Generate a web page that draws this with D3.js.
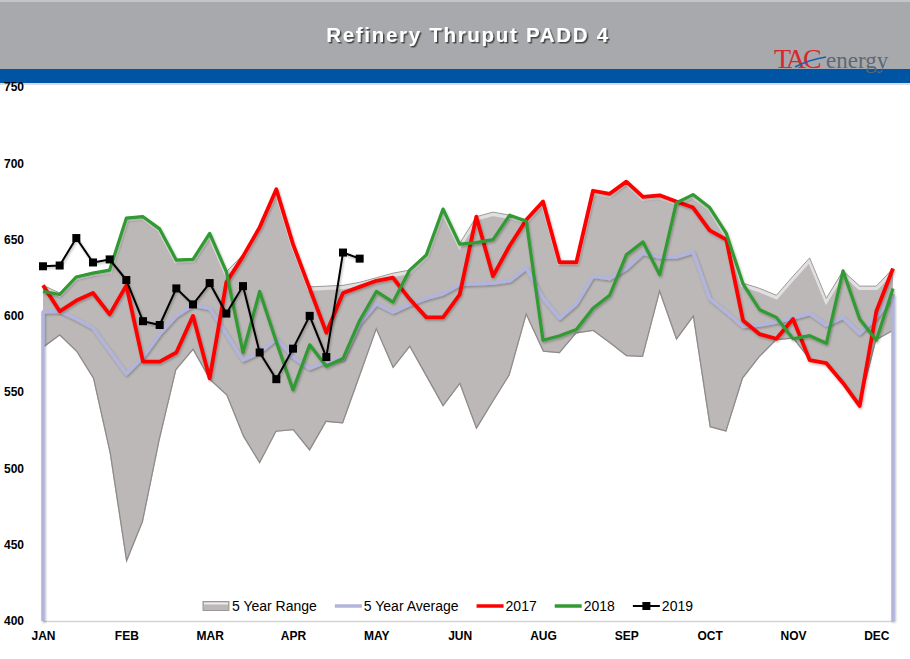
<!DOCTYPE html>
<html>
<head>
<meta charset="utf-8">
<script src="https://cdn.jsdelivr.net/npm/d3@7"></script>
<style>
  body { margin: 0; background: #fff; }
  svg { display: block; }
</style>
</head>
<body>
<svg id="chart" width="910" height="659"></svg>
<script>
'use strict';
/* global d3 */

// weekly values, 52 weeks, thousand b/d
var monthLabels = ['JAN', 'FEB', 'MAR', 'APR', 'MAY', 'JUN', 'AUG', 'SEP', 'OCT', 'NOV', 'DEC'];
var yTicks = [400, 450, 500, 550, 600, 650, 700, 750];

var rangeMin = [579, 587, 576.5, 559, 510, 438, 465, 518.5, 564.5, 577.5, 558, 548, 521, 503, 524, 525,
  511.5, 530.5, 529.5, 560, 590.5, 565.5, 579.5, 560, 540.5, 555, 525.5, 543.5, 561, 600, 576.5, 575.5,
  588.5, 590, 582, 573.5, 573, 615, 584, 599, 527, 524, 559, 573, 584, 585, 571, 568.5, 555.5, 541, 584, 590];
var rangeMax = [620, 615, 626, 628.5, 630, 664.5, 665.5, 657.5, 637, 637.5, 654.5, 629, 640, 659.5, 683.5, 647.5,
  619, 619.5, 620, 622, 625, 628, 630, 640, 670, 647.5, 665, 668, 666, 663, 675.5, 636,
  636, 682, 680, 688.5, 678, 679, 675, 679.5, 671.5, 654, 621.5, 618, 613.5, 626, 638, 611.5, 629.5, 619.5, 619.5, 631];
var avg5 = [602.5, 603, 598, 592, 577, 562, 573, 588, 600, 607, 605, 588, 571, 576, 585, 573,
  565.5, 570, 572, 595, 608, 602.5, 607.5, 611.5, 614.5, 620.5, 621, 621.5, 623, 631.5, 611.5, 598.5,
  608, 626, 624.5, 631, 641, 638.5, 638.5, 642, 611.5, 602.5, 593, 594, 596, 598.5, 601.5, 594, 599, 588.5, 599, 613.5];
var y2017 = [620, 603, 610, 615, 601, 620, 570, 570, 576, 600, 559, 622, 639, 658, 683, 647,
  618, 589, 615, 619, 623, 625, 611, 599, 599, 614, 665, 626, 646, 663, 675, 635,
  635, 682, 680, 688, 678, 679, 675, 671, 656, 650, 597, 588, 585, 598, 571, 569, 556, 541, 603, 631];
var y2018 = [616, 614, 625.5, 628, 630, 664, 665, 657, 636.5, 637, 654, 629, 576, 616, 583, 551.5,
  581, 567, 572, 597, 616, 609, 630, 640, 670, 647, 648, 650, 666, 662, 584, 587,
  591, 605, 613.5, 640, 648.5, 627, 674, 679.5, 671, 654, 621, 604, 599, 585, 587, 582, 629.5, 598, 584, 618];
var y2019 = [632.5, 633, 651, 635, 637, 623.5, 596.5, 594, 618, 607.5, 621.5, 601.5, 619.5, 576, 558.5,
  578.5, 600, 573, 641.5, 637.5];

var svg = d3.select('#chart');
var W = 910;

var x = d3.scaleLinear().domain([0, 51]).range([43, 893]);
var y = d3.scaleLinear().domain([400, 750]).range([621, 87]);

var defs = svg.append('defs');
var shadow = defs.append('filter').attr('id', 'titleShadow')
  .attr('x', '-10%').attr('y', '-30%').attr('width', '120%').attr('height', '160%');
shadow.append('feDropShadow').attr('dx', 1.5).attr('dy', 1.5).attr('stdDeviation', 0.7)
  .attr('flood-color', '#333').attr('flood-opacity', 0.85);
var lineShadow = defs.append('filter').attr('id', 'lineShadow')
  .attr('x', '-5%').attr('y', '-10%').attr('width', '110%').attr('height', '120%');
lineShadow.append('feDropShadow').attr('dx', 1).attr('dy', 1.5).attr('stdDeviation', 1)
  .attr('flood-color', '#000').attr('flood-opacity', 0.28);

// header
svg.append('rect').attr('x', 0).attr('y', 0).attr('width', W).attr('height', 69).attr('fill', '#a8a9ac');
svg.append('line').attr('x1', 0).attr('x2', W).attr('y1', 1).attr('y2', 1)
  .attr('stroke', '#c4c5c7').attr('stroke-width', 2);
svg.append('rect').attr('x', 0).attr('y', 69).attr('width', W).attr('height', 14).attr('fill', '#0054a4');
svg.append('line').attr('x1', 0).attr('x2', W).attr('y1', 84).attr('y2', 84)
  .attr('stroke', '#cfd0d2').attr('stroke-width', 1.5);

svg.append('text')
  .attr('x', 468).attr('y', 42)
  .attr('text-anchor', 'middle')
  .attr('fill', '#fff')
  .attr('filter', 'url(#titleShadow)')
  .style('font', 'bold 20.5px "Liberation Sans", Arial, sans-serif')
  .style('letter-spacing', '1.7px')
  .text('Refinery Thruput PADD 4');

// logo
var logo = svg.append('g');
logo.append('text').attr('x', 774).attr('y', 68)
  .attr('fill', '#d6282e')
  .style('font', '28px "Liberation Serif", "DejaVu Serif", serif')
  .style('letter-spacing', '-3px')
  .text('TAC');
logo.append('path').attr('d', 'M795,67 Q808,60 826,57')
  .attr('fill', 'none').attr('stroke', '#1d5fae').attr('stroke-width', 1.6);
logo.append('text').attr('x', 826).attr('y', 68)
  .attr('fill', '#5d6873')
  .style('font', '23px "Liberation Serif", "DejaVu Serif", serif')
  .text('energy');

// axes
var yAxis = svg.append('g')
  .call(d3.axisLeft(y).tickValues(yTicks).tickSize(0).tickFormat(d3.format('d')));
yAxis.select('.domain').remove();
yAxis.selectAll('text')
  .attr('x', 4).attr('text-anchor', 'start')
  .attr('fill', '#000')
  .style('font', 'bold 12px "Liberation Sans Narrow", "Arial Narrow", "Liberation Sans", sans-serif');

var xAxis = svg.append('g').attr('transform', 'translate(0,' + y(400) + ')')
  .call(d3.axisBottom(x)
    .tickValues(monthLabels.map(function (d, i) { return i * 5; }))
    .tickFormat(function (d) { return monthLabels[d / 5]; })
    .tickSize(0).tickSizeOuter(0).tickPadding(10));
xAxis.select('.domain').attr('stroke', '#d4d4d4').attr('stroke-width', 1.5);
xAxis.selectAll('text')
  .attr('fill', '#000')
  .style('font', 'bold 12px "Liberation Sans Narrow", "Arial Narrow", "Liberation Sans", sans-serif');

// 5 year range
var weeks = d3.range(rangeMin.length);
var rangeArea = d3.area()
  .x(function (i) { return x(i); })
  .y0(function (i) { return y(rangeMin[i]); })
  .y1(function (i) { return y(rangeMax[i]); });
var topLine = d3.line()
  .x(function (i) { return x(i); })
  .y(function (i) { return y(rangeMax[i]); });
var botLine = d3.line()
  .x(function (i) { return x(i); })
  .y(function (i) { return y(rangeMin[i]); });

defs.append('clipPath').attr('id', 'rangeClip')
  .append('path').attr('d', rangeArea(weeks));

svg.append('path').attr('d', rangeArea(weeks)).attr('fill', '#bcb8b8');
var bevel = svg.append('g').attr('clip-path', 'url(#rangeClip)');
bevel.append('path').attr('d', topLine(weeks))
  .attr('fill', 'none').attr('stroke', '#fff').attr('stroke-width', 5)
  .attr('stroke-opacity', 0.55).attr('transform', 'translate(0,1.5)');
bevel.append('path').attr('d', botLine(weeks))
  .attr('fill', 'none').attr('stroke', '#8f8b8b').attr('stroke-width', 2.5);
svg.append('path').attr('d', topLine(weeks))
  .attr('fill', 'none').attr('stroke', '#8a8787').attr('stroke-width', 0.8);

// 5 year average, dropping to the axis at both ends as in the source
var line = d3.line()
  .x(function (d) { return x(d[0]); })
  .y(function (d) { return y(d[1]); });
var avgPts = [[0, 400]].concat(avg5.map(function (v, i) { return [i, v]; }), [[avg5.length - 1, 400]]);
svg.append('path').attr('d', line(avgPts))
  .attr('fill', 'none').attr('stroke', '#b2b4dc').attr('stroke-width', 3.5)
  .attr('stroke-linejoin', 'round').attr('filter', 'url(#lineShadow)');

function series(vals, color, width) {
  return svg.append('path')
    .attr('d', line(vals.map(function (v, i) { return [i, v]; })))
    .attr('fill', 'none').attr('stroke', color).attr('stroke-width', width)
    .attr('stroke-linejoin', 'round').attr('filter', 'url(#lineShadow)');
}
series(y2017, '#ff0000', 3.8);
series(y2018, '#339a33', 3.2);
series(y2019, '#000', 2);
svg.append('g').selectAll('rect').data(y2019).enter().append('rect')
  .attr('x', function (d, i) { return x(i) - 4; })
  .attr('y', function (d) { return y(d) - 4; })
  .attr('width', 8).attr('height', 8)
  .attr('fill', '#000');

// legend
var legendItems = [
  { name: '5 Year Range', type: 'range' },
  { name: '5 Year Average', type: 'line', color: '#b2b4dc', width: 3.5 },
  { name: '2017', type: 'line', color: '#ff0000', width: 3.5 },
  { name: '2018', type: 'line', color: '#339a33', width: 3.5 },
  { name: '2019', type: 'marker', color: '#000', width: 2 }
];
var legend = svg.append('g');
var lx = 0;
legendItems.forEach(function (it) {
  var g = legend.append('g').attr('transform', 'translate(' + lx + ',0)');
  if (it.type === 'range') {
    g.append('rect').attr('x', 0).attr('y', -4.5).attr('width', 26).attr('height', 9)
      .attr('fill', '#bcb8b8').attr('stroke', '#8a8787').attr('stroke-width', 0.8);
    g.append('line').attr('x1', 1).attr('x2', 25).attr('y1', -2.5).attr('y2', -2.5)
      .attr('stroke', '#fff').attr('stroke-width', 2).attr('stroke-opacity', 0.7);
  } else {
    g.append('line').attr('x1', 0).attr('x2', 27).attr('y1', 0).attr('y2', 0)
      .attr('stroke', it.color).attr('stroke-width', it.width);
    if (it.type === 'marker') {
      g.append('rect').attr('x', 9.5).attr('y', -4).attr('width', 8).attr('height', 8).attr('fill', it.color);
    }
  }
  var t = g.append('text').attr('x', 29).attr('y', 0).attr('dy', '0.35em')
    .attr('fill', '#000')
    .style('font', '14px "Liberation Sans", Arial, sans-serif')
    .text(it.name);
  lx += 29 + t.node().getComputedTextLength() + 18;
});
lx -= 18;
legend.attr('transform', 'translate(' + (448 - lx / 2) + ',606)');
</script>
</body>
</html>
